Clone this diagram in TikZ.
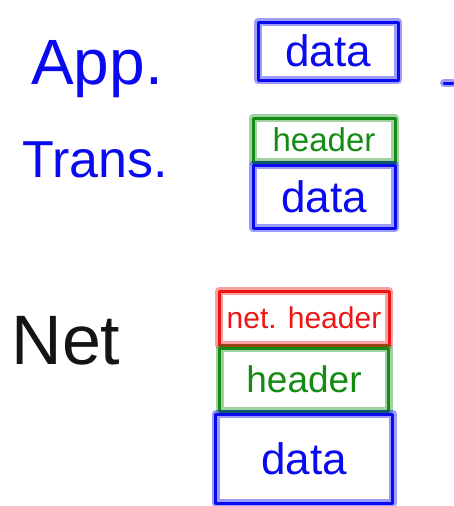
\documentclass[tikz,border=0pt]{standalone}
\usepackage{fontspec}
\setmainfont{Liberation Sans}
\definecolor{inkblue}{RGB}{10,10,240}
\definecolor{inkgreen}{RGB}{20,140,20}
\definecolor{inkred}{RGB}{240,20,20}
\definecolor{inkblack}{RGB}{20,20,20}
\tikzset{
  ink/.style={line width=3pt, line join=round, line cap=round,
    preaction={draw=#1, opacity=0.4, line width=8pt, line join=round, line cap=round}},
  layerbox/.style={draw=#1, ink=#1, rectangle, inner sep=0pt, text=#1},
  lbl/.style={text=#1, inner sep=0pt, anchor=base},
}
\begin{document}
\begin{tikzpicture}[x=1pt,y=-1pt]
\useasboundingbox (0,0) rectangle (453,506);
% layer labels
\node[lbl=inkblue, font=\fontsize{64}{66}\selectfont] (app) at (97,84) {App.};
\node[lbl=inkblue, font=\fontsize{52}{54}\selectfont] (trans) at (95,177) {Trans.};
\node[lbl=inkblack, font=\fontsize{70}{72}\selectfont] (net) at (66,364) {Net};
% application layer
\node[layerbox=inkblue, minimum width=140pt, minimum height=58pt,
  font=\fontsize{44}{46}\selectfont] (appdata) at (328,51) {data};
% transport layer
\node[layerbox=inkgreen, minimum width=142pt, minimum height=44pt,
  font=\fontsize{33}{35}\selectfont] (transhdr) at (324,140) {header};
\node[layerbox=inkblue, minimum width=142pt, minimum height=63pt,
  font=\fontsize{44}{46}\selectfont, anchor=north] (transdata) at (transhdr.south) {data};
% network layer
\node[layerbox=inkred, minimum width=170pt, minimum height=54pt,
  font=\fontsize{30}{32}\selectfont] (nethdr) at (304,318) {net. header};
\node[layerbox=inkgreen, minimum width=169pt, minimum height=63pt,
  font=\fontsize{37}{39}\selectfont, anchor=north] (nettrans) at (nethdr.south) {header};
\node[layerbox=inkblue, minimum width=177pt, minimum height=89pt,
  font=\fontsize{44}{46}\selectfont, anchor=north] (netdata) at (nettrans.south) {data};
% stray mark at the right edge
\draw[inkblue, ink=inkblue] (444,83) -- (453,83);
\end{tikzpicture}
\end{document}
